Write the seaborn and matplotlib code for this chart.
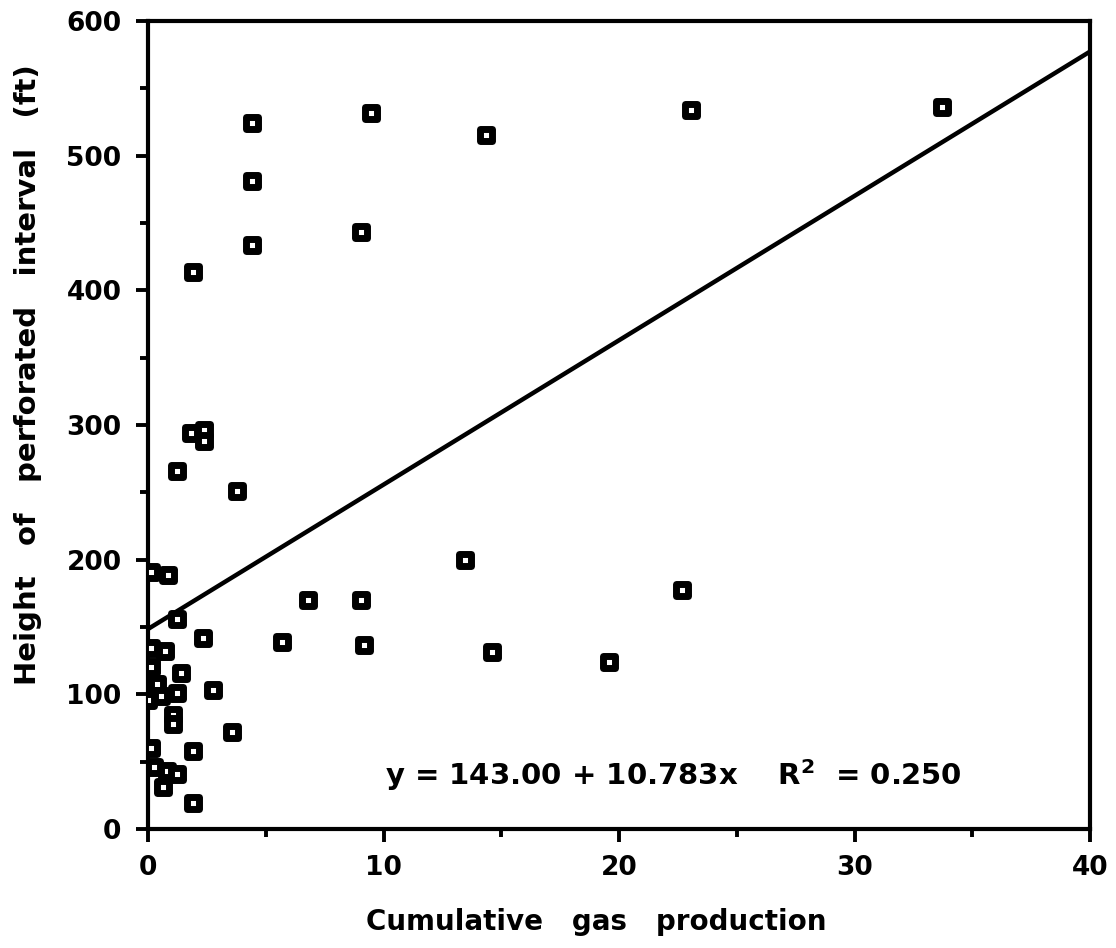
import numpy as np
import pandas as pd
import matplotlib
matplotlib.use("Agg")
import matplotlib.pyplot as plt
import seaborn as sns
from matplotlib.ticker import MultipleLocator

# ---- data ----
gas_production = [
    33.7, 23.06, 9.46, 14.35, 4.43, 4.43, 4.43, 9.03, 1.93,
    1.81, 2.39, 2.39, 1.25, 3.77,
    13.46, 22.66, 6.81, 9.05, 5.68, 9.19, 14.6, 19.57,
    0.11, 0.86, 1.25, 2.35, 0.11, 0.72, 0.11, 1.39, 0.37, 2.75, 1.22,
    0.54, 0.01, 1.08, 1.08, 3.55, 0.11, 1.93, 0.26, 0.79, 1.22, 0.65, 1.93,
]
perforated_height = [
    535.8, 533.8, 531.8, 515.7, 524, 481, 433.6, 443, 413.7,
    294, 296, 288, 265.8, 251,
    199.7, 177.4, 170.4, 170.4, 139, 136.6, 131.6, 124.2,
    191, 188.6, 156, 141.5, 134.5, 132.3, 120.5, 115.6, 108, 103, 101,
    98.7, 95.8, 84.6, 78, 72, 60.3, 58, 46.3, 43.3, 41.2, 31.4, 19.5,
]
fit_intercept = 148.5
fit_slope = 10.72
x_ticks = [0, 10, 20, 30, 40]
x_tick_labels = ["0", "10", "20", "30", "40"]
y_ticks = [0, 100, 200, 300, 400, 500, 600]
equation_text = "y = 143.00 + 10.783x    R$^{2}$  = 0.250"
x_label = "Cumulative   gas   production"
y_label = "Height   of   perforated   interval   (ft)"

df = pd.DataFrame({"x": gas_production, "y": perforated_height})

sns.set_style("white")
plt.rcParams["font.family"] = ["DejaVu Sans"]
plt.rcParams["font.weight"] = "bold"
plt.rcParams["text.color"] = "black"
plt.rcParams["axes.labelcolor"] = "black"
plt.rcParams["xtick.color"] = "black"
plt.rcParams["ytick.color"] = "black"

fig = plt.figure(figsize=(11.16, 9.48), dpi=100)
ax = fig.add_axes([148 / 1116, 1 - 829 / 948, (1090 - 148) / 1116, (829 - 21) / 948])

line_x = np.array([0, 40])
line_df = pd.DataFrame({"x": line_x, "y": fit_intercept + fit_slope * line_x})
sns.lineplot(data=line_df, x="x", y="y", ax=ax, color="black", linewidth=3.2, zorder=2)

sns.scatterplot(data=df, x="x", y="y", ax=ax, marker="s", s=64,
                facecolor="white", edgecolor="black", linewidth=5.0, zorder=3)

ax.set_xlim(0, 40)
ax.set_ylim(0, 600)
ax.set_xticks(x_ticks)
ax.set_xticklabels(x_tick_labels)
ax.set_yticks(y_ticks)
ax.xaxis.set_minor_locator(MultipleLocator(5))
ax.yaxis.set_minor_locator(MultipleLocator(50))

for sp in ax.spines.values():
    sp.set_linewidth(3)
    sp.set_color("black")

ax.tick_params(axis="both", which="major", direction="out", length=9, width=2.8,
               labelsize=19, pad=10, color="black", labelcolor="black",
               bottom=True, left=True)
ax.tick_params(axis="both", which="minor", direction="out", length=6, width=2.8,
               color="black", bottom=True, left=True)
for lbl in ax.get_xticklabels() + ax.get_yticklabels():
    lbl.set_fontweight("bold")

ax.set_xlabel(x_label, fontsize=20, fontweight="bold", color="black")
ax.set_ylabel(y_label, fontsize=21, fontweight="bold", color="black")
ax.xaxis.set_label_coords((596 - 148) / 942, -0.098)
ax.yaxis.set_label_coords(-0.112, 0.562)

ax.text(10.05, 40, equation_text, fontsize=21, fontweight="bold",
        ha="left", va="center", color="black")

fig.savefig("out.png", dpi=100)
